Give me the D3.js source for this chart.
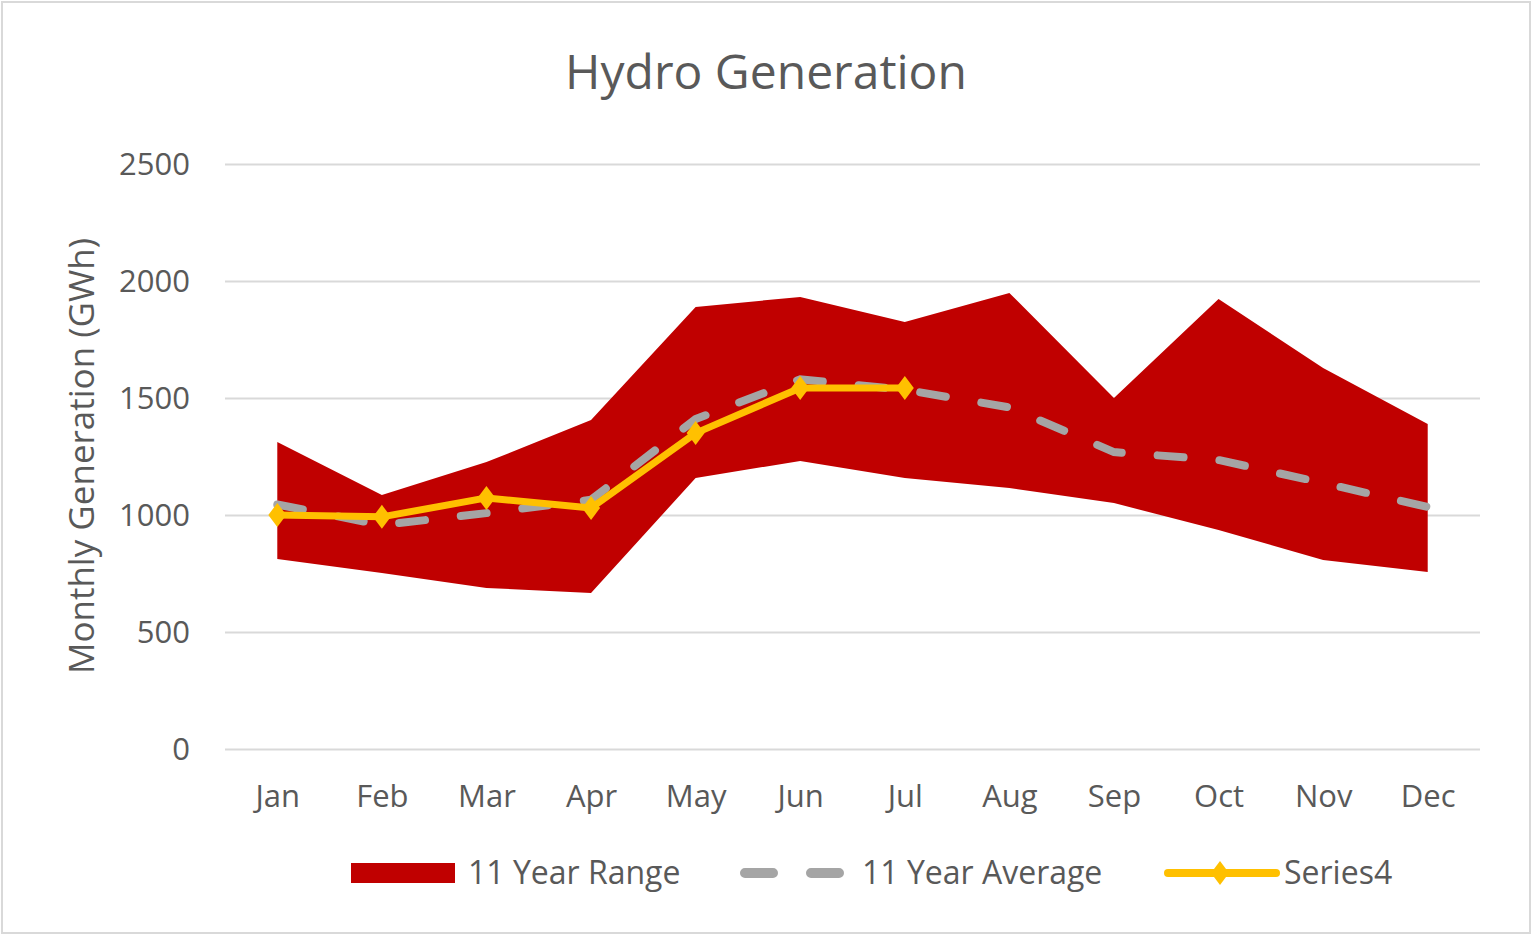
<!DOCTYPE html>
<html>
<head>
<meta charset="utf-8">
<script src="https://d3js.org/d3.v7.min.js"></script>
<style>
body{margin:0;background:#fff;}
text{font-family:"Open Sans",sans-serif;fill:#595959;}
</style>
</head>
<body>
<div id="chart"></div>
<script>
// 데이터
var months = ["Jan","Feb","Mar","Apr","May","Jun","Jul","Aug","Sep","Oct","Nov","Dec"];
var rangeLow  = [812, 752, 688, 667, 1158, 1231, 1158, 1115, 1051, 936, 808, 756];
var rangeHigh = [1312, 1085, 1226, 1406, 1889, 1932, 1825, 1949, 1500, 1923, 1628, 1389];
var average   = [1045, 957, 1008, 1065, 1410, 1580, 1535, 1460, 1269, 1235, 1137, 1034];
var series4   = [1000, 992, 1073, 1030, 1350, 1543, 1543, null, null, null, null, null];
var yTicks    = [0, 500, 1000, 1500, 2000, 2500];

var W = 1533, H = 936;
var plot = {left:225, right:1480, top:164, bottom:749};

var svg = d3.select("#chart").append("svg")
    .attr("width", W)
    .attr("height", H);

// 테두리
svg.append("rect")
    .attr("x", 2).attr("y", 2)
    .attr("width", W-5).attr("height", H-5)
    .attr("fill", "#fff")
    .attr("stroke", "#d9d9d9")
    .attr("stroke-width", 2);

var x = d3.scalePoint().domain(months).range([plot.left, plot.right]).padding(0.5);
var y = d3.scaleLinear().domain([0, 2500]).range([plot.bottom, plot.top]);

// 그리드
var yAxis = d3.axisLeft(y).tickValues(yTicks).tickFormat(d3.format("d"))
    .tickSize(-(plot.right-plot.left)).tickPadding(35);
var gy = svg.append("g")
    .attr("transform", "translate(" + plot.left + ",0)")
    .call(yAxis);
gy.select(".domain").remove();
gy.selectAll(".tick line").attr("stroke", "#d9d9d9").attr("stroke-width", 2);
gy.selectAll(".tick text").style("font-size", "31px").attr("fill", "#595959").attr("dy", "0.35em");

var xAxis = d3.axisBottom(x).tickSize(0).tickPadding(36);
var gx = svg.append("g")
    .attr("transform", "translate(0," + plot.bottom + ")")
    .call(xAxis);
gx.select(".domain").remove();
gx.selectAll(".tick text").style("font-size", "31px").attr("fill", "#595959");

// 범위
var area = d3.area()
    .x(function(d, i){ return x(months[i]); })
    .y0(function(d, i){ return y(rangeLow[i]); })
    .y1(function(d){ return y(d); });
svg.append("path")
    .datum(rangeHigh)
    .attr("fill", "#c00000")
    .attr("d", area);

// 평균
var line = d3.line()
    .defined(function(d){ return d != null; })
    .x(function(d, i){ return x(months[i]); })
    .y(function(d){ return y(d); });
svg.append("path")
    .datum(average)
    .attr("fill", "none")
    .attr("stroke", "#a5a5a5")
    .attr("stroke-width", 8)
    .attr("stroke-linecap", "round")
    .attr("stroke-dasharray", "26,36")
    .attr("d", line);

// Series4
svg.append("path")
    .datum(series4)
    .attr("fill", "none")
    .attr("stroke", "#ffc000")
    .attr("stroke-width", 7)
    .attr("stroke-linejoin", "round")
    .attr("d", line);

var diamond = function(cx, cy){
    return "M" + cx + "," + (cy-12) + "L" + (cx+9) + "," + cy + "L" + cx + "," + (cy+12) + "L" + (cx-9) + "," + cy + "Z";
};
svg.selectAll(".s4dot")
    .data(series4.map(function(v, i){ return {m:months[i], v:v}; }).filter(function(d){ return d.v != null; }))
    .enter().append("path")
    .attr("class", "s4dot")
    .attr("fill", "#ffc000")
    .attr("d", function(d){ return diamond(x(d.m), y(d.v)); });

// 제목
svg.append("text")
    .attr("x", 766).attr("y", 89)
    .attr("text-anchor", "middle")
    .style("font-size", "48px")
    .text("Hydro Generation");

svg.append("text")
    .attr("transform", "translate(94,456) rotate(-90)")
    .attr("text-anchor", "middle")
    .style("font-size", "35px")
    .text("Monthly Generation (GWh)");

// 범례
var ly = 873;
var legend = svg.append("g");
legend.append("rect")
    .attr("x", 351).attr("y", ly-10)
    .attr("width", 104).attr("height", 20)
    .attr("fill", "#c00000");
legend.append("text").attr("x", 468).attr("y", ly).attr("dy", "0.35em")
    .style("font-size", "32px").text("11 Year Range");

legend.append("path")
    .attr("d", d3.line()([[745, ly], [840, ly]]))
    .attr("stroke", "#a5a5a5")
    .attr("stroke-width", 10)
    .attr("stroke-linecap", "round")
    .attr("stroke-dasharray", "28,38");
legend.append("text").attr("x", 862).attr("y", ly).attr("dy", "0.35em")
    .style("font-size", "32px").text("11 Year Average");

legend.append("path")
    .attr("d", d3.line()([[1168, ly], [1276, ly]]))
    .attr("stroke", "#ffc000")
    .attr("stroke-width", 8)
    .attr("stroke-linecap", "round");
legend.append("path")
    .attr("fill", "#ffc000")
    .attr("d", diamond(1220, ly));
legend.append("text").attr("x", 1284).attr("y", ly).attr("dy", "0.35em")
    .style("font-size", "32px").text("Series4");
</script>
</body>
</html>
